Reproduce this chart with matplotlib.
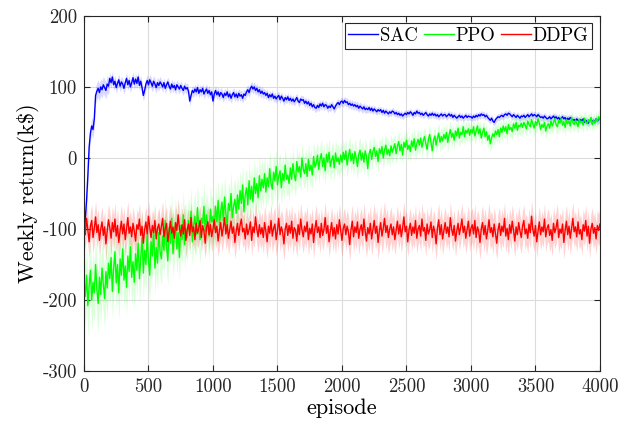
import numpy as np
import matplotlib
matplotlib.use("Agg")
import matplotlib.pyplot as plt

# episodes are sampled every 10 steps, 0..4000 (each row below = 200 episodes)
episodes = np.arange(0, 4001, 10)

sac_mean = [
    -110, -85, -60, -25, 15, 35, 45, 40, 55, 88, 94, 98, 92, 100, 96, 103, 99, 95, 104, 101,
    112, 106, 114, 103, 108, 99, 105, 110, 101, 107, 104, 98, 106, 112, 103, 109, 100, 106, 113, 104,
    111, 105, 114, 102, 108, 99, 88, 95, 104, 109, 103, 110, 106, 101, 108, 104, 99, 106, 102, 107,
    104, 100, 106, 98, 103, 107, 101, 97, 104, 99, 102, 96, 103, 100, 97, 102, 98, 95, 101, 97,
    99, 94, 80, 88, 95, 92, 97, 93, 99, 91, 96, 93, 98, 90, 94, 97, 91, 95, 89, 93,
    80, 90, 95, 89, 93, 87, 92, 90, 85, 91, 88, 93, 86, 90, 84, 89, 92, 86, 90, 85,
    91, 87, 89, 84, 90, 88, 93, 96, 92, 98, 101, 97, 100, 95, 98, 93, 96, 91, 94, 90,
    92, 88, 91, 85, 89, 86, 90, 84, 87, 83, 86, 88, 82, 87, 84, 80, 85, 82, 86, 81,
    84, 80, 83, 79, 82, 85, 80, 78, 83, 81, 82, 77, 80, 76, 79, 74, 77, 72, 75, 71,
    70, 74, 71, 76, 73, 77, 72, 75, 74, 70, 73, 71, 75, 72, 69, 73, 76, 78, 75, 79,
    80, 77, 81, 78, 79, 75, 77, 74, 76, 73, 75, 72, 74, 70, 73, 71, 69, 72, 68, 70,
    68, 71, 67, 70, 66, 69, 67, 65, 68, 66, 68, 64, 67, 63, 66, 64, 62, 65, 63, 66,
    65, 62, 64, 61, 63, 60, 62, 59, 61, 63, 61, 64, 62, 65, 63, 60, 64, 62, 66, 63,
    64, 61, 63, 60, 62, 64, 61, 59, 62, 60, 63, 60, 62, 59, 61, 58, 60, 62, 59, 61,
    61, 58, 60, 62, 59, 61, 57, 60, 58, 56, 58, 60, 57, 59, 56, 58, 60, 57, 59, 58,
    58, 56, 59, 57, 60, 58, 61, 59, 62, 60, 61, 58, 60, 57, 55, 53, 56, 52, 50, 54,
    56, 58, 57, 59, 60, 58, 61, 62, 60, 63, 62, 60, 58, 61, 59, 57, 60, 58, 56, 59,
    58, 60, 57, 59, 61, 58, 60, 62, 59, 61, 60, 58, 61, 59, 57, 58, 56, 59, 57, 55,
    56, 58, 55, 57, 59, 56, 58, 55, 57, 54, 56, 58, 55, 57, 53, 56, 54, 57, 55, 53,
    54, 52, 55, 53, 51, 54, 52, 55, 50, 53, 51, 49, 52, 54, 51, 53, 50, 55, 52, 54,
    55,
]

ppo_mean = [
    -172, -195, -165, -208, -180, -158, -200, -175, -190, -150, -185, -205, -168, -192, -155, -178, -198, -160, -183, -148,
    -170, -140, -188, -155, -132, -176, -150, -190, -142, -165, -128, -172, -152, -182, -138, -160, -125, -168, -146, -175,
    -135, -158, -120, -170, -140, -112, -162, -130, -150, -108, -145, -165, -118, -138, -100, -155, -126, -148, -105, -132,
    -142, -110, -130, -88, -125, -145, -98, -120, -85, -135, -112, -92, -128, -105, -140, -95, -115, -80, -122, -100,
    -112, -88, -105, -75, -118, -95, -82, -108, -70, -98, -115, -85, -92, -68, -104, -80, -96, -110, -72, -90,
    -82, -100, -68, -90, -60, -95, -75, -62, -88, -55, -78, -96, -64, -74, -50, -84, -68, -58, -78, -52,
    -72, -46, -64, -38, -76, -52, -42, -66, -32, -58, -40, -62, -28, -50, -36, -56, -25, -46, -30, -42,
    -22, -48, -28, -40, -15, -36, -44, -20, -32, -12, -38, -25, -18, -42, -22, -32, -10, -30, -24, -36,
    -14, -30, -8, -24, -32, -5, -20, -12, -27, 0, -16, -22, -8, -26, -2, -18, -10, -24, 2, -13,
    -8, 4, -16, -2, 6, -12, 0, -18, 5, -6, 8, -12, -3, 3, -14, 7, -5, 0, -9, 4,
    -6, 8, -2, 10, -10, 3, 12, -4, 6, -8, 9, 0, -12, 5, 11, -3, 7, -6, 10, 2,
    -15, 6, 12, -2, 9, 15, 2, 10, -5, 13, 6, 16, 0, 11, 18, 5, 12, 3, 17, 8,
    14, 20, 6, 17, 23, 10, 19, 4, 22, 15, 25, 12, 18, 9, 24, 16, 27, 11, 20, 26,
    18, 28, 15, 24, 30, 20, 12, 26, 33, 21, 10, 25, 31, 18, 28, 35, 22, 30, 24, 33,
    27, 36, 22, 32, 40, 29, 35, 25, 38, 31, 42, 28, 36, 33, 44, 30, 39, 35, 41, 32,
    40, 35, 44, 31, 38, 45, 34, 41, 28, 36, 42, 30, 37, 25, 32, 20, 28, 34, 30, 38,
    33, 40, 30, 42, 36, 45, 38, 44, 34, 47, 40, 43, 37, 48, 42, 50, 39, 46, 44, 49,
    43, 50, 46, 41, 52, 47, 44, 54, 48, 42, 51, 46, 55, 49, 40, 47, 43, 50, 38, 45,
    48, 42, 52, 45, 50, 55, 47, 44, 53, 49, 56, 46, 51, 43, 54, 48, 52, 45, 57, 50,
    47, 53, 49, 44, 55, 50, 52, 46, 56, 51, 48, 54, 50, 57, 47, 53, 49, 55, 51, 58,
    54,
]

ddpg_mean = [
    -92, -108, -85, -101, -118, -96, -88, -112, -99, -83, -105, -94, -116, -100, -90, -109, -97, -121, -103, -87,
    -98, -113, -91, -104, -86, -110, -95, -119, -102, -89, -107, -93, -115, -99, -84, -106, -97, -111, -92, -103,
    -117, -94, -100, -86, -109, -96, -120, -101, -90, -107, -82, -98, -112, -95, -105, -88, -114, -99, -93, -108,
    -96, -85, -111, -100, -92, -118, -103, -89, -106, -97, -113, -91, -102, -80, -99, -110, -94, -107, -87, -116,
    -101, -93, -109, -84, -104, -97, -115, -92, -106, -99, -88, -112, -95, -103, -120, -98, -90, -108, -94, -111,
    -100, -87, -105, -96, -117, -102, -91, -110, -98, -84, -107, -94, -113, -101, -89, -106, -97, -119, -103, -92,
    -109, -95, -86, -104, -99, -114, -93, -108, -101, -90, -116, -97, -105, -83, -100, -111, -94, -107, -98, -112,
    -91, -103, -118, -96, -106, -88, -110, -99, -93, -115, -102, -85, -108, -97, -104, -121, -100, -92, -109, -95,
    -106, -89, -113, -98, -102, -117, -94, -108, -86, -101, -111, -96, -104, -90, -115, -99, -107, -93, -119, -100,
    -88, -105, -97, -112, -92, -109, -101, -84, -106, -95, -118, -103, -91, -110, -98, -114, -94, -107, -87, -102,
    -116, -99, -93, -108, -96, -104, -122, -101, -89, -111, -97, -105, -90, -113, -100, -94, -109, -86, -103, -117,
    -98, -107, -92, -114, -101, -88, -106, -96, -119, -103, -91, -110, -99, -85, -105, -95, -112, -100, -93, -108,
    -97, -115, -102, -89, -107, -94, -111, -99, -83, -104, -96, -118, -101, -92, -109, -97, -106, -88, -113, -100,
    -95, -110, -86, -103, -98, -116, -93, -107, -101, -90, -112, -96, -104, -121, -99, -87, -108, -94, -114, -102,
    -91, -106, -97, -111, -84, -100, -109, -95, -117, -103, -92, -108, -98, -86, -105, -96, -113, -101, -89, -110,
    -99, -94, -107, -88, -112, -97, -103, -119, -100, -91, -108, -95, -114, -102, -87, -105, -98, -111, -93, -106,
    -120, -101, -92, -109, -96, -104, -85, -110, -99, -115, -94, -106, -89, -102, -117, -97, -108, -91, -103, -112,
    -96, -88, -107, -100, -113, -93, -105, -82, -101, -110, -95, -118, -103, -90, -108, -97, -104, -86, -111, -99,
    -94, -109, -101, -116, -92, -105, -98, -87, -112, -100, -106, -93, -119, -102, -89, -108, -96, -113, -99, -85,
    -104, -97, -111, -90, -107, -101, -115, -94, -103, -88, -110, -96, -120, -100, -92, -106, -98, -114, -95, -102,
    -93,
]

# half width of the shaded band, one value per 200 episodes
sac_spread = [12, 8, 8, 7, 7, 7, 7, 6, 6, 6, 6, 5, 5, 5, 5, 5, 5, 5, 5, 5, 5]
ppo_spread = [42, 40, 38, 36, 34, 30, 28, 25, 22, 20, 18, 16, 15, 14, 13, 12, 12, 11, 11, 10, 10]
ddpg_spread = [22, 23, 22, 24, 22, 23, 22, 24, 23, 22, 23, 24, 22, 23, 22, 24, 23, 22, 23, 22, 23]

labels = ["SAC", "PPO", "DDPG"]
colors = ["#0000ff", "#00ff00", "#ff0000"]
band_alpha = [0.15, 0.14, 0.18]

plt.rcParams["font.family"] = "serif"
plt.rcParams["font.serif"] = ["cmr10"]
plt.rcParams["mathtext.fontset"] = "cm"
plt.rcParams["axes.unicode_minus"] = False

fig = plt.figure(figsize=(6.3, 4.29), dpi=100)
ax = fig.add_axes([0.1333, 0.135, 0.819, 0.828])

series = [sac_mean, ppo_mean, ddpg_mean]
spreads = [sac_spread, ppo_spread, ddpg_spread]

# shaded bands first, then the lines on top
for mean, spread, c, a in zip(series, spreads, colors, band_alpha):
    m = np.array(mean, dtype=float)
    s = np.repeat(np.array(spread, dtype=float), 20)[:len(m)]
    ax.fill_between(episodes, m - s, m + s, color=c, alpha=a, linewidth=0)

for mean, c, lab in zip(series, colors, labels):
    ax.plot(episodes, mean, color=c, linewidth=1.0, label=lab)

ax.set_xlim(0, 4000)
ax.set_ylim(-300, 200)
xt = list(range(0, 4001, 500))
yt = list(range(-300, 201, 100))
ax.set_xticks(xt)
ax.set_xticklabels([str(v) for v in xt])
ax.set_yticks(yt)
ax.set_yticklabels([str(v) for v in yt])
ax.tick_params(direction="in", top=True, right=True, labelsize=13.5,
               length=4, width=0.8, colors="#262626", pad=5)
ax.grid(True, color="#dcdcdc", linewidth=0.8)
ax.set_axisbelow(True)
for sp in ax.spines.values():
    sp.set_color("#262626")
    sp.set_linewidth(0.8)

ax.set_xlabel("episode", fontsize=16, labelpad=2)
ax.set_ylabel("Weekly return(k\\$)", fontsize=16, labelpad=2)

leg = ax.legend(loc="upper right", ncol=3, fontsize=13.5, handlelength=1.6,
                handletextpad=0.1, columnspacing=0.3, borderpad=0.2,
                borderaxespad=0.4, fancybox=False, framealpha=1)
leg.get_frame().set_edgecolor("#262626")
leg.get_frame().set_linewidth(0.8)

fig.savefig("out.png", dpi=100)
